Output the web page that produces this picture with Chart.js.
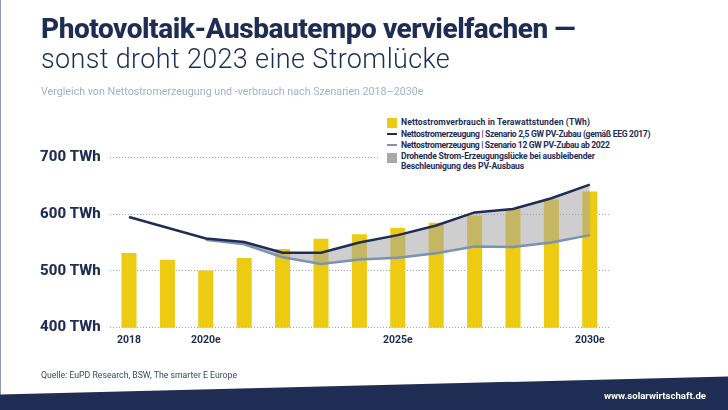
<!DOCTYPE html>
<html lang="de"><head><meta charset="utf-8">
<script src="https://cdn.jsdelivr.net/npm/chart.js@4"></script>
<style>
html,body{margin:0;padding:0;background:#fff}
#wrap{position:relative;width:728px;height:410px;overflow:hidden;font-family:Roboto,sans-serif;color:#1f2d54;background:#fff}
#wrap canvas{position:absolute;left:0;top:0}
.t{position:absolute;white-space:nowrap;line-height:1;transform-origin:left center}
.sw{position:absolute;left:387px;width:10px;height:10px}
.ln{position:absolute;left:387px;width:10px;height:2px}
.lg{font-size:8.6px;font-weight:700;left:401px}
#lgbg{position:absolute;left:378px;top:110px;width:300px;height:62px;background:#fff}
#band{position:absolute;left:0;top:370px;width:728px;height:40px;background:#1f2d54;clip-path:polygon(0 24.5px,100% 6.5px,100% 100%,0 100%)}
#edge{position:absolute;left:0;top:0;width:1px;height:395px;background:#8d99b8}
</style></head><body>
<div id="wrap">
<canvas id="c" width="728" height="410"></canvas>
<div id="edge"></div>
<div class="t" style="left:41px;top:15px;font-size:28px;font-weight:800;letter-spacing:-.47px">Photovoltaik-Ausbautempo vervielfachen —</div>
<div class="t" style="left:41px;top:46px;font-size:27px;font-weight:300;letter-spacing:.35px">sonst droht 2023 eine Stromlücke</div>
<div class="t" style="left:41px;top:87px;font-size:10.7px;color:#a3b1c7">Vergleich von Nettostromerzeugung und -verbrauch nach Szenarien 2018–2030e</div>
<div id="lgbg"></div>
<div class="sw" style="top:118px;background:#eccb12"></div>
<div class="t lg" style="top:118px;letter-spacing:.1px">Nettostromverbrauch in Terawattstunden (TWh)</div>
<div class="ln" style="top:133px;background:#1f2d54"></div>
<div class="t lg" style="top:130px;letter-spacing:-.33px">Nettostromerzeugung | Szenario 2,5 GW PV-Zubau (gemäß EEG 2017)</div>
<div class="ln" style="top:144px;background:#7b93b3"></div>
<div class="t lg" style="top:141px;letter-spacing:-.34px">Nettostromerzeugung | Szenario 12 GW PV-Zubau ab 2022</div>
<div class="sw" style="top:153px;background:#a9a9a9"></div>
<div class="t lg" style="top:152px;letter-spacing:-.2px">Drohende Strom-Erzeugungslücke bei ausbleibender</div>
<div class="t lg" style="top:162px;letter-spacing:-.17px">Beschleunigung des PV-Ausbaus</div>
<div class="t" style="left:41px;top:371px;font-size:8.7px;color:#3a4668">Quelle: EuPD Research, BSW, The smarter E Europe</div>
<div id="band"></div>
<div class="t" style="left:604px;top:391px;font-size:9.6px;font-weight:700;color:#fff">www.solarwirtschaft.de</div>
</div>
<script>
const years = ['2018','2019','2020','2021','2022','2023','2024','2025','2026','2027','2028','2029','2030'];
const xTickLabels = ['2018','','2020e','','','','','2025e','','','','','2030e'];
const yTickValues = [400,500,600,700];
const consumption = [531,519,500,522,538,556,564,575,584,597,608,625,639];
const scenarioLow = [595,576,557,551,532,532,550,563,580,603,609,628,652];
const scenarioHigh = [null,null,555,547,524,512,520,523,531,543,542,550,563];
const dark='#1f2d54', steel='#7b93b3';

new Chart(document.getElementById('c'),{
  data:{labels:years,datasets:[
    {type:'line',label:'Szenario 2,5 GW',data:scenarioLow,borderColor:dark,borderWidth:2.5,pointRadius:0,tension:0,order:1,fill:false},
    {type:'line',label:'Szenario 12 GW',data:scenarioHigh,borderColor:steel,borderWidth:2.5,pointRadius:0,tension:0,order:2,
      fill:{target:0},backgroundColor:'rgba(165,165,165,0.55)'},
    {type:'bar',label:'Nettostromverbrauch',data:consumption,backgroundColor:'#eccb12',barThickness:14.4,order:3}
  ]},
  options:{
    responsive:false,animation:false,
    layout:{padding:{left:0,right:119,top:157.3,bottom:0}},
    plugins:{legend:{display:false},tooltip:{enabled:false}},
    scales:{
      x:{grid:{display:false,drawTicks:false,tickLength:0},border:{display:false},
        afterFit:s=>{s.height=82.3},
        ticks:{autoSkip:false,maxRotation:0,padding:6,color:dark,font:{family:'Roboto',size:10.5,weight:'700'},
          callback:(v,i)=>xTickLabels[i]}},
      y:{min:400,max:700,
        afterFit:s=>{s.width=109.8},
        afterBuildTicks:s=>{s.ticks=yTickValues.map(v=>({value:v}))},
        border:{display:false,dash:[1,2]},
        grid:{color:'#93a3bb',lineWidth:1,drawTicks:false,tickLength:0},
        ticks:{padding:9,color:dark,font:{family:'Roboto',size:15,weight:'800'},callback:v=>v+' TWh'}}
    }
  }
});
</script>
</body></html>
